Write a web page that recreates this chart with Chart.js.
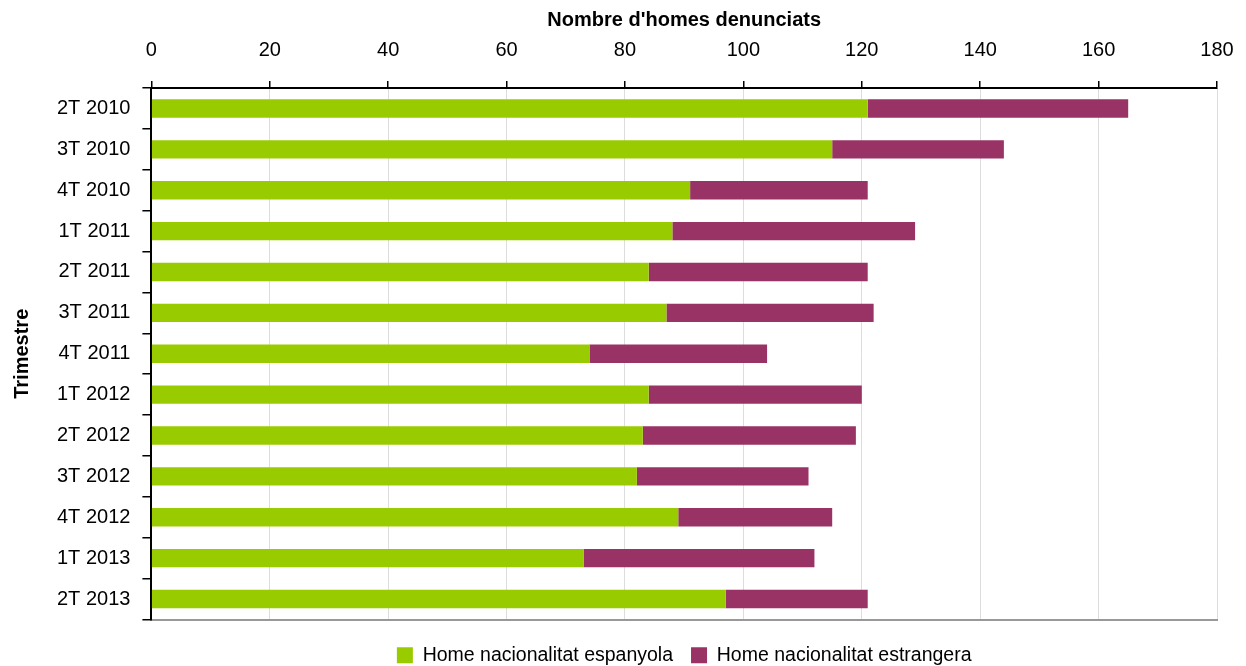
<!DOCTYPE html>
<html>
<head>
<meta charset="utf-8">
<script src="https://cdn.jsdelivr.net/npm/chart.js@4/dist/chart.umd.min.js"></script>
<style>
html,body{margin:0;padding:0;background:#fff;}
#wrap{width:1246px;height:666px;position:relative;}
</style>
</head>
<body>
<div id="wrap"><canvas id="c"></canvas></div>
<script>
const categories = ["2T 2010","3T 2010","4T 2010","1T 2011","2T 2011","3T 2011","4T 2011","1T 2012","2T 2012","3T 2012","4T 2012","1T 2013","2T 2013"];
const espanyola = [121,115,91,88,84,87,74,84,83,82,89,73,97];
const estrangera = [44,29,30,41,37,35,30,36,36,29,26,39,24];
const xTicks = [0,20,40,60,80,100,120,140,160,180];

const FONT = "'Liberation Sans Narrow','Arial Narrow','Liberation Sans',Arial,sans-serif";
Chart.defaults.font.family = FONT;
Chart.defaults.color = '#000';
const setTicks = (axis) => { axis.ticks = xTicks.map(v => ({value: v})); };

new Chart(document.getElementById('c'), {
  type: 'bar',
  data: {
    labels: categories,
    datasets: [
      {label: 'Home nacionalitat espanyola', data: espanyola, backgroundColor: '#99CC00', barPercentage: 0.45, categoryPercentage: 1, xAxisID: 'x'},
      {label: 'Home nacionalitat estrangera', data: estrangera, backgroundColor: '#993366', barPercentage: 0.45, categoryPercentage: 1, xAxisID: 'x'}
    ]
  },
  options: {
    indexAxis: 'y',
    responsive: true,
    maintainAspectRatio: false,
    animation: false,
    layout: {padding: {left: 10, right: 29, top: 8, bottom: -9}},
    plugins: {
      legend: {
        position: 'bottom',
        fullSize: false,
        labels: {boxWidth: 16, boxHeight: 16, font: {size: 19.5, family: FONT}, padding: 18, color: '#000'}
      },
      tooltip: {enabled: false}
    },
    scales: {
      x: {
        position: 'top',
        weight: 1,
        stacked: true,
        min: 0, max: 180,
        afterBuildTicks: setTicks,
        ticks: {font: {size: 20, family: FONT}, color: '#000', padding: 4},
        grid: {color: '#dddddd', lineWidth: 1, tickColor: 'rgba(0,0,0,0)', tickLength: 15, drawTicks: true},
        border: {display: false},
        title: {display: true, text: "Nombre d'homes denunciats", font: {size: 20, weight: 'bold', family: FONT}, color: '#000', padding: {top: 0, bottom: 2}}
      },
      xt: {
        position: 'top',
        weight: 0,
        min: 0, max: 180,
        afterBuildTicks: setTicks,
        ticks: {display: false},
        grid: {drawOnChartArea: false, color: '#000', tickColor: '#000', lineWidth: 1.5, tickLength: 7, drawTicks: true},
        border: {display: true, color: '#000', width: 2}
      },
      x2: {
        position: 'bottom',
        min: 0, max: 180,
        ticks: {display: false},
        grid: {display: false},
        border: {display: true, color: '#999999', width: 2}
      },
      y: {
        stacked: true,
        ticks: {font: {size: 20, family: FONT}, color: '#000', padding: 12},
        grid: {
          offset: true,
          drawOnChartArea: false,
          tickColor: '#000',
          lineWidth: 1.5,
          tickLength: 9
        },
        border: {display: true, color: '#000', width: 2},
        title: {display: true, text: 'Trimestre', font: {size: 20, weight: 'bold', family: FONT}, color: '#000', padding: {top: 0, bottom: 11}}
      }
    }
  }
});
</script>
</body>
</html>
